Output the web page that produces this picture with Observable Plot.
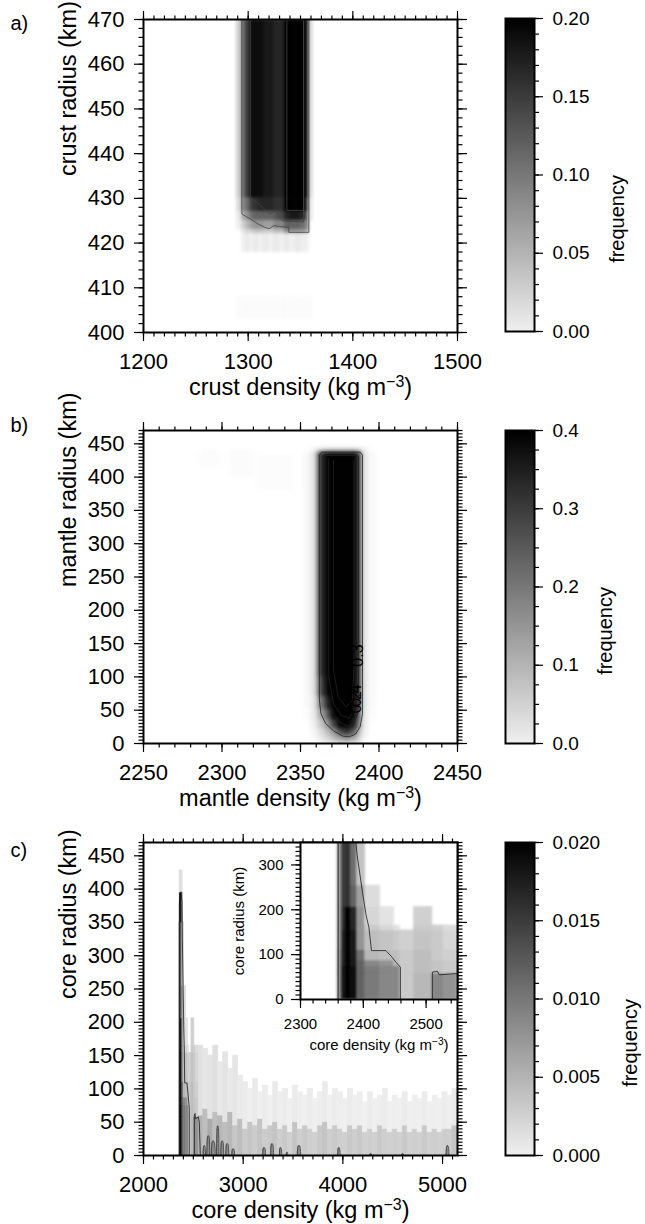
<!DOCTYPE html>
<html><head><meta charset="utf-8">
<script src="https://cdn.jsdelivr.net/npm/d3@7"></script>
<script src="https://cdn.jsdelivr.net/npm/@observablehq/plot@0.6"></script>
<style>
body{margin:0;background:#fff;}
#fig{position:relative;width:645px;height:1224px;overflow:hidden;background:#fff;}
#fig svg{position:absolute;overflow:visible;background:transparent;}
</style></head><body><div id="fig"></div>
<script>
// ---------------- DATA ----------------
// Panel a: crust density (kg m-3) x crust radius (km)
const crustDensityTicks = [1200, 1300, 1400, 1500];
const crustRadiusTicks = [400, 410, 420, 430, 440, 450, 460, 470];
const crustDensityEdges = [1289, 1294, 1298, 1302, 1306, 1310, 1315, 1320, 1325, 1330, 1335, 1340, 1345, 1350, 1355, 1358, 1362];
const crustRadiusBands = [[430, 470], [427, 430], [425, 427], [423, 425], [422, 423], [418, 422], [403, 408]];
const crustFreq = [
  [0.03, 0.11, 0.15, 0.19, 0.19, 0.19, 0.18, 0.18, 0.17, 0.17, 0.24, 0.25, 0.25, 0.24, 0.19, 0.02],
  [0.02, 0.09, 0.11, 0.15, 0.16, 0.17, 0.17, 0.17, 0.16, 0.16, 0.22, 0.23, 0.23, 0.22, 0.16, 0.01],
  [0.01, 0.06, 0.08, 0.11, 0.12, 0.12, 0.12, 0.12, 0.13, 0.14, 0.17, 0.18, 0.18, 0.17, 0.12, 0.01],
  [0.005, 0.03, 0.05, 0.07, 0.08, 0.08, 0.07, 0.07, 0.09, 0.09, 0.12, 0.12, 0.12, 0.11, 0.09, 0],
  [0, 0.015, 0.025, 0.03, 0.04, 0.04, 0.035, 0.035, 0.045, 0.045, 0.08, 0.08, 0.08, 0.075, 0.06, 0],
  [0, 0.004, 0.01, 0.004, 0.01, 0.004, 0.01, 0.004, 0.01, 0.004, 0.01, 0.004, 0.01, 0.006, 0.004, 0],
  [0.0012, 0.0012, 0.0012, 0.0012, 0.0012, 0.0012, 0.0012, 0.0012, 0.0012, 0.0012, 0.0012, 0.0012, 0.0012, 0.0012, 0.0012, 0.0012]
];
const crustContour1 = [[1294, 470], [1294, 426.5], [1302, 425.4], [1310, 424.2], [1316, 423.5], [1320, 423.2], [1324.5, 423.9], [1330, 423.7], [1338.8, 423.5], [1338.8, 422.4], [1358, 422.4], [1358, 470]];
const crustContour2 = [[1302, 470], [1302, 430.3], [1311, 428.5], [1321, 426.5], [1326, 427.3], [1332.5, 425], [1353, 424.7], [1353, 470]];
const crustContour3 = [[1337, 470], [1337, 427.3], [1353, 427.3], [1353, 470]];
const crustFreqTicks = [0, 0.05, 0.10, 0.15, 0.20];

// Panel b: mantle density x mantle radius
const mantleDensityTicks = [2250, 2300, 2350, 2400, 2450];
const mantleRadiusTicks = [0, 50, 100, 150, 200, 250, 300, 350, 400, 450];
const mantleDensityEdges = [2352, 2357, 2361, 2364, 2367, 2370, 2374, 2378, 2382, 2386, 2389, 2393, 2398];
const mantleRadiusBands = [[437, 443], [100, 437], [70, 100], [50, 70], [35, 50], [22, 35], [12, 22], [4, 12], [0, 4]];
const mantleFreq = [
  [0, 0.005, 0.03, 0.04, 0.05, 0.05, 0.05, 0.05, 0.05, 0.04, 0.01, 0],
  [0.004, 0.03, 0.28, 0.36, 0.45, 0.5, 0.5, 0.5, 0.48, 0.32, 0.03, 0.004],
  [0.004, 0.03, 0.24, 0.33, 0.42, 0.5, 0.5, 0.5, 0.48, 0.32, 0.03, 0.004],
  [0.003, 0.02, 0.17, 0.25, 0.36, 0.46, 0.5, 0.5, 0.45, 0.3, 0.03, 0.003],
  [0.002, 0.015, 0.11, 0.17, 0.27, 0.4, 0.48, 0.48, 0.42, 0.26, 0.025, 0.002],
  [0, 0.01, 0.06, 0.11, 0.18, 0.3, 0.42, 0.44, 0.36, 0.2, 0.02, 0],
  [0, 0.005, 0.03, 0.06, 0.1, 0.17, 0.28, 0.32, 0.26, 0.12, 0.01, 0],
  [0, 0.003, 0.015, 0.035, 0.06, 0.1, 0.15, 0.18, 0.14, 0.07, 0.005, 0],
  [0, 0, 0.005, 0.015, 0.03, 0.05, 0.07, 0.08, 0.06, 0.03, 0, 0]
];
// faint patch near the top left of panel b
const mantleFaintDensity = [[2285, 2300], [2305, 2320], [2322, 2345]];
const mantleFaintRadius = [[415, 440], [400, 440], [380, 432]];
const mantleFaintFreq = [0.0015, 0.002, 0.0015];
const mantleContour01 = [[2362, 433], [2362, 67], [2363, 45], [2366, 30], [2371, 19], [2377, 11], [2381, 10], [2385, 14], [2388, 25], [2389.5, 45], [2389.5, 433], [2388, 437.5], [2363.5, 437.5], [2362, 433]];
const mantleContour02 = [[2365, 430], [2365, 97], [2367, 68], [2370, 48], [2375, 32], [2380, 26], [2384, 30], [2386.5, 45], [2387, 80], [2387, 430], [2386, 432.5], [2366, 432.5], [2365, 430]];
const mantleContour03 = [[2368, 428], [2368, 100], [2371, 60], [2376, 42], [2381, 38], [2384, 50], [2385.5, 90], [2385.5, 428]];
const mantleContour04 = [[2371, 425], [2371, 110], [2374, 70], [2379, 55], [2383, 65], [2384, 110], [2384, 425]];
const mantleContourLabelText = ["0.3", "0.4", "0.2"];
const mantleContourLabelDensity = [2386.5, 2385, 2385.5];
const mantleContourLabelRadius = [132, 72, 62];
const mantleFreqTicks = [0, 0.1, 0.2, 0.3, 0.4];

// Panel c: core density x core radius
const coreDensityTicks = [2000, 3000, 4000, 5000];
const coreRadiusTicks = [0, 50, 100, 150, 200, 250, 300, 350, 400, 450];
const insetDensityTicks = [2300, 2400, 2500];
const insetRadiusTicks = [0, 100, 200, 300];
// near-peak grid (also shown enlarged in the inset)
const corePeakEdges = [2359, 2366, 2372, 2380, 2390, 2403, 2427, 2449, 2459, 2481, 2510, 2528, 2550];
const corePeakBands = [[0, 58], [58, 75], [75, 87], [87, 110], [110, 154], [154, 165], [165, 206], [206, 254], [254, 350]];
const corePeakFreq = [
  [0.008, 0.018, 0.021, 0.019, 0.012, 0.010, 0.009, 0.009, 0.0035, 0.005, 0.009, 0.008],
  [0.008, 0.018, 0.021, 0.019, 0.012, 0.010, 0.009, 0.009, 0.0035, 0.0045, 0.004, 0.0035],
  [0.008, 0.017, 0.021, 0.018, 0.012, 0.009, 0.008, 0.0045, 0.0035, 0.0045, 0.004, 0.0035],
  [0.008, 0.017, 0.021, 0.018, 0.011, 0.005, 0.0045, 0.0045, 0.0035, 0.0045, 0.0035, 0.003],
  [0.007, 0.017, 0.021, 0.018, 0.008, 0.0045, 0.004, 0.0035, 0.003, 0.004, 0.0035, 0.0025],
  [0.007, 0.016, 0.020, 0.017, 0.008, 0.0035, 0.0025, 0.0015, 0, 0.0035, 0.003, 0.002],
  [0.007, 0.016, 0.020, 0.017, 0.008, 0.0025, 0.0015, 0, 0, 0.003, 0, 0],
  [0.007, 0.015, 0.016, 0.012, 0.007, 0.002, 0, 0, 0, 0, 0, 0],
  [0.007, 0.015, 0.016, 0.011, 0.004, 0, 0, 0, 0, 0, 0, 0]
];
// top of the narrow peak above 350 km
const coreSpikeEdges = [2362, 2366, 2390, 2395];
const coreSpikeBands = [[350, 395], [395, 428]];
const coreSpikeFreq = [[0.005, 0.018, 0.005], [0.0008, 0.002, 0.0008]];
// 50 kg m-3 wide columns from 2550 to 5150
const coreColumnStart = [2550, 2600, 2650, 2700, 2750, 2800, 2850, 2900, 2950, 3000, 3050, 3100, 3150, 3200, 3250, 3300, 3350, 3400, 3450, 3500, 3550, 3600, 3650, 3700, 3750, 3800, 3850, 3900, 3950, 4000, 4050, 4100, 4150, 4200, 4250, 4300, 4350, 4400, 4450, 4500, 4550, 4600, 4650, 4700, 4750, 4800, 4850, 4900, 4950, 5000, 5050, 5100];
const coreColumnTop = [165, 160, 150, 165, 140, 155, 130, 150, 120, 110, 100, 115, 95, 105, 90, 110, 95, 100, 85, 105, 95, 90, 100, 85, 95, 110, 90, 100, 95, 85, 100, 90, 95, 80, 95, 85, 90, 100, 80, 90, 85, 95, 80, 90, 85, 95, 80, 90, 85, 95, 90, 100];
const coreColumnTopFreq = [0.0016, 0.0012, 0.0015, 0.0018, 0.0011, 0.0014, 0.001, 0.0013, 0.0009, 0.0008, 0.0006, 0.0009, 0.0005, 0.0007, 0.0005, 0.0009, 0.0006, 0.0007, 0.0005, 0.0008, 0.0006, 0.0005, 0.0007, 0.0005, 0.0006, 0.0008, 0.0005, 0.0007, 0.0006, 0.0005, 0.0007, 0.0005, 0.0006, 0.0005, 0.0007, 0.0005, 0.0006, 0.0007, 0.0005, 0.0006, 0.0005, 0.0007, 0.0005, 0.0006, 0.0005, 0.0007, 0.0005, 0.0006, 0.0005, 0.0007, 0.0006, 0.0008];
const coreColumnMid = [60, 70, 55, 65, 60, 50, 65, 45, 55, 40, 50, 45, 55, 40, 45, 50, 40, 45, 35, 50, 40, 45, 40, 35, 45, 50, 40, 45, 40, 35, 45, 40, 45, 35, 40, 35, 45, 40, 35, 40, 35, 45, 35, 40, 35, 45, 35, 40, 35, 40, 40, 45];
const coreColumnMidFreq = [0.0055, 0.0045, 0.006, 0.0045, 0.005, 0.0045, 0.005, 0.0038, 0.0045, 0.0035, 0.0038, 0.0033, 0.004, 0.0033, 0.0036, 0.004, 0.0032, 0.0036, 0.003, 0.004, 0.0032, 0.0036, 0.0032, 0.003, 0.0036, 0.004, 0.0032, 0.0036, 0.0032, 0.003, 0.0036, 0.0032, 0.0036, 0.003, 0.0032, 0.003, 0.0036, 0.0032, 0.003, 0.0032, 0.003, 0.0036, 0.003, 0.0032, 0.003, 0.0036, 0.003, 0.0032, 0.003, 0.0032, 0.0032, 0.004];
// small closed contours near zero radius
const coreBumpDensity = [2610, 2650, 2700, 2745, 2790, 2840, 2900, 3210, 3290, 3375, 3440, 3560, 3960, 4280, 4600, 5050];
const coreBumpHalfWidth = [12, 15, 20, 12, 15, 15, 15, 15, 15, 12, 8, 18, 12, 8, 8, 15];
const coreBumpRadius = [15, 30, 22, 45, 22, 18, 10, 12, 18, 12, 5, 15, 12, 3, 3, 15];
const corePeakContour = [[2360, 0], [2360, 380], [2366, 394], [2378, 396], [2386, 380], [2390, 324], [2396, 265], [2404, 191], [2409, 160], [2413, 109], [2436, 109], [2446, 94], [2452, 83], [2459, 72], [2459, 0]];
const coreSideContour = [[2510, 0], [2510, 61], [2518, 63], [2521, 55], [2550, 58], [2560, 50], [2570, 0]];
const coreFreqTicks = [0, 0.005, 0.010, 0.015, 0.020];

// ---------------- DRAWING ----------------
const FONT = '"Liberation Sans", Arial, Helvetica, sans-serif';
const LIGHT = "#f0f0f0";
const fig = document.getElementById("fig");
const PW = 314, PH = 313;

function place(svg, left, top) {
  svg.style.left = left + "px";
  svg.style.top = top + "px";
  fixSup(svg);
  fig.appendChild(svg);
}
function fixSup(root) {
  root.querySelectorAll("text").forEach(t => {
    const s = t.textContent;
    if (t.children.length === 0 && s.includes("\u207B\u00B3")) {
      const [a, b] = s.split("\u207B\u00B3");
      t.textContent = a;
      const sup = document.createElementNS("http://www.w3.org/2000/svg", "tspan");
      sup.setAttribute("baseline-shift", "super");
      sup.setAttribute("font-size", "0.68em");
      sup.textContent = "\u22123";
      t.appendChild(sup);
      const rest = document.createElementNS("http://www.w3.org/2000/svg", "tspan");
      rest.textContent = b;
      t.appendChild(rest);
    }
  });
}
function cellsFrom(edges, bands, matrix) {
  const out = [];
  bands.forEach((b, i) => {
    for (let j = 0; j < edges.length - 1; j++) {
      const v = matrix[i][j];
      if (v > 0) out.push({x1: edges[j], x2: edges[j + 1], y1: b[0], y2: b[1], v});
    }
  });
  return out;
}
function heatScale(max) {
  // tiny frequencies fade to white, the rest is the grey ramp of the colour bar
  return {type: "linear", domain: [0, max * 0.02, max], range: ["#ffffff", LIGHT, "#000000"], clamp: true};
}
function heat(cells, blur) {
  return Plot.rect(cells, {x1: "x1", x2: "x2", y1: "y1", y2: "y2", fill: "v", stroke: "v", strokeWidth: 0.7, clip: true, imageFilter: `blur(${blur}px)`});
}
function contourLine(pts, opts = {}) {
  return Plot.line(pts, {x: d => d[0], y: d => d[1], stroke: "#1a1a1a", strokeWidth: 0.8, clip: true, ...opts});
}
function frameAxes(xTicks, xMinor, yTicks, yMinor, fs, majorLen, minorLen, sides) {
  const m = [];
  const blank = () => "";
  const sw = 1.2;
  m.push(Plot.axisX({anchor: "bottom", ticks: xTicks, tickSize: majorLen, tickPadding: sides.padX, tickFormat: d => String(d), fontSize: fs, label: null, strokeWidth: sw}));
  m.push(Plot.axisX({anchor: "bottom", ticks: xMinor, tickSize: minorLen, tickFormat: blank, label: null, strokeWidth: sw}));
  m.push(Plot.axisY({anchor: "left", ticks: yTicks, tickSize: majorLen, tickPadding: sides.padY, tickFormat: d => String(d), fontSize: fs, label: null, strokeWidth: sw}));
  m.push(Plot.axisY({anchor: "left", ticks: yMinor, tickSize: minorLen, tickFormat: blank, label: null, strokeWidth: sw}));
  if (sides.all) {
    m.push(Plot.axisX({anchor: "top", ticks: xTicks, tickSize: majorLen, tickFormat: blank, label: null, strokeWidth: sw}));
    m.push(Plot.axisX({anchor: "top", ticks: xMinor, tickSize: minorLen, tickFormat: blank, label: null, strokeWidth: sw}));
    m.push(Plot.axisY({anchor: "right", ticks: yTicks, tickSize: majorLen, tickFormat: blank, label: null, strokeWidth: sw}));
    m.push(Plot.axisY({anchor: "right", ticks: yMinor, tickSize: minorLen, tickFormat: blank, label: null, strokeWidth: sw}));
  }
  return m;
}
function panel(o) {
  const mL = 143, mR = 20, mT = 20, mB = 80;
  return Plot.plot({
    width: mL + PW + mR, height: mT + PH + mB,
    marginLeft: mL, marginRight: mR, marginTop: mT, marginBottom: mB,
    style: {fontFamily: FONT, fontSize: "22px", background: "transparent", overflow: "visible", color: "#000"},
    x: {domain: o.xDomain, label: null},
    y: {domain: o.yDomain, label: null},
    color: heatScale(o.colorMax),
    marks: [
      heat(o.cells, o.blur),
      ...(o.extra || []),
      Plot.frame({strokeWidth: 2}),
      ...frameAxes(o.xTicks, o.xMinor, o.yTicks, o.yMinor, 22, 9, 4.5, {all: true, padX: 12, padY: 10}),
      Plot.text([o.yLabel], {text: d => d, frameAnchor: "left", dx: -75, rotate: -90, fontSize: 23.5, lineAnchor: "middle"}),
      Plot.text([o.xLabel], {text: d => d, frameAnchor: "bottom", dy: 55, fontSize: 23.5, lineAnchor: "middle"}),
      Plot.text([o.tag], {text: d => d, frameAnchor: "top-left", dx: -133, dy: o.tagDy, textAnchor: "start", lineAnchor: "middle", fontSize: 20})
    ]
  });
}
function colorbar(o) {
  const mL = 5, mR = 120, mT = 10, mB = 10, W = 29;
  return Plot.plot({
    width: mL + W + mR, height: mT + PH + mB,
    marginLeft: mL, marginRight: mR, marginTop: mT, marginBottom: mB,
    style: {fontFamily: FONT, fontSize: "19px", background: "transparent", overflow: "visible", color: "#000"},
    x: {domain: [0, 1], axis: null},
    y: {domain: [0, o.max], label: null},
    color: {type: "linear", domain: [0, o.max], range: [LIGHT, "#000"]},
    marks: [
      Plot.raster({x1: 0, x2: 1, y1: 0, y2: o.max, width: 2, height: 256, fill: (x, y) => y}),
      Plot.frame({strokeWidth: 2}),
      Plot.axisY({anchor: "right", ticks: o.ticks, tickSize: 8, tickPadding: 10, tickFormat: o.fmt, fontSize: 19, label: null, strokeWidth: 1.2}),
      Plot.axisY({anchor: "right", ticks: o.minor, tickSize: 4, tickFormat: () => "", label: null, strokeWidth: 1.2}),
      Plot.text(["frequency"], {text: d => d, frameAnchor: "right", dx: o.labelDx, rotate: -90, fontSize: 20, lineAnchor: "middle"})
    ]
  });
}

// ---- panel a ----
const cellsA = cellsFrom(crustDensityEdges, crustRadiusBands, crustFreq);
place(panel({
  xDomain: [1200, 1500], yDomain: [400, 470], colorMax: 0.2, cells: cellsA, blur: 1.6,
  xTicks: crustDensityTicks, xMinor: d3.range(1200, 1501, 10),
  yTicks: crustRadiusTicks, yMinor: d3.range(400, 471, 2),
  extra: [crustContour1, crustContour2, crustContour3].map(c => contourLine(c, {stroke: "#444"})),
  xLabel: "crust density (kg m\u207B\u00B3)", yLabel: "crust radius (km)", tag: "a)", tagDy: 4
}), 0, 19 - 20);
place(colorbar({max: 0.2, ticks: crustFreqTicks, minor: d3.range(0, 0.2001, 0.01), fmt: d3.format(".2f"), labelDx: 83}), 500, 18 - 10);

// ---- panel b ----
const cellsB = cellsFrom(mantleDensityEdges, mantleRadiusBands, mantleFreq);
mantleFaintFreq.forEach((v, i) => cellsB.push({x1: mantleFaintDensity[i][0], x2: mantleFaintDensity[i][1], y1: mantleFaintRadius[i][0], y2: mantleFaintRadius[i][1], v}));
const labelsB = mantleContourLabelText.map((t, i) => ({t, x: mantleContourLabelDensity[i], y: mantleContourLabelRadius[i]}));
place(panel({
  xDomain: [2250, 2450], yDomain: [0, 470], colorMax: 0.4, cells: cellsB, blur: 2,
  xTicks: mantleDensityTicks, xMinor: d3.range(2250, 2451, 10),
  yTicks: mantleRadiusTicks, yMinor: d3.range(0, 471, 5),
  extra: [
    ...[mantleContour01, mantleContour02, mantleContour03, mantleContour04].map(c => contourLine(c, {stroke: "#222"})),
    Plot.text(labelsB, {x: "x", y: "y", text: "t", rotate: -90, fontSize: 16, fill: "#000"})
  ],
  xLabel: "mantle density (kg m\u207B\u00B3)", yLabel: "mantle radius (km)", tag: "b)", tagDy: -5
}), 0, 430 - 20);
place(colorbar({max: 0.4, ticks: mantleFreqTicks, minor: d3.range(0, 0.4001, 0.025), fmt: d3.format(".1f"), labelDx: 71}), 500, 430 - 10);

// ---- panel c ----
const cellsPeak = cellsFrom(corePeakEdges, corePeakBands, corePeakFreq);
const cellsSpike = cellsFrom(coreSpikeEdges, coreSpikeBands, coreSpikeFreq);
const cellsCols = [];
coreColumnStart.forEach((x, j) => {
  cellsCols.push({x1: x, x2: x + 50, y1: 0, y2: coreColumnMid[j], v: coreColumnMidFreq[j]});
  cellsCols.push({x1: x, x2: x + 50, y1: coreColumnMid[j], y2: coreColumnTop[j], v: coreColumnTopFreq[j]});
});
const bumps = coreBumpDensity.map((c, i) => {
  const w = coreBumpHalfWidth[i], h = coreBumpRadius[i];
  return [[c - w, 0], [c - w * 0.8, h * 0.8], [c - w * 0.4, h], [c + w * 0.4, h], [c + w * 0.8, h * 0.8], [c + w, 0]].map(p => ({x: p[0], y: p[1], id: i}));
}).flat();
place(panel({
  xDomain: [2000, 5150], yDomain: [0, 470], colorMax: 0.02, blur: 0.6,
  cells: [...cellsCols, ...cellsPeak, ...cellsSpike],
  xTicks: coreDensityTicks, xMinor: d3.range(2000, 5151, 100),
  yTicks: coreRadiusTicks, yMinor: d3.range(0, 471, 5),
  extra: [
    Plot.areaY(bumps, {x: "x", y: "y", z: "id", fill: "#8a8a8a", curve: "basis", clip: true}),
    Plot.line(bumps, {x: "x", y: "y", z: "id", stroke: "#333", strokeWidth: 0.8, curve: "basis", clip: true}),
    contourLine(corePeakContour), contourLine(coreSideContour)
  ],
  xLabel: "core density (kg m\u207B\u00B3)", yLabel: "core radius (km)", tag: "c)", tagDy: 8
}), 0, 842 - 20);
place(colorbar({max: 0.02, ticks: coreFreqTicks, minor: d3.range(0, 0.02001, 0.001), fmt: d3.format(".3f"), labelDx: 96}), 500, 842 - 10);

// ---- inset ----
{
  const mL = 60, mR = 5, mT = 5, mB = 60, W = 157, H = 157;
  const inset = Plot.plot({
    width: mL + W + mR, height: mT + H + mB,
    marginLeft: mL, marginRight: mR, marginTop: mT, marginBottom: mB,
    style: {fontFamily: FONT, fontSize: "15px", background: "transparent", overflow: "visible", color: "#000"},
    x: {domain: [2300, 2550], label: null},
    y: {domain: [0, 350], label: null},
    color: heatScale(0.02),
    marks: [
      Plot.frame({fill: "white", stroke: null}),
      heat(cellsPeak, 1.2),
      contourLine(corePeakContour), contourLine(coreSideContour),
      contourLine([[2360, 0], [2360, 350]], {stroke: "#555"}),
      Plot.frame({strokeWidth: 2}),
      ...frameAxes(insetDensityTicks, d3.range(2300, 2551, 20), insetRadiusTicks, d3.range(0, 351, 10), 15, 9, 4.5, {all: false, padX: 10, padY: 8}),
      Plot.text(["core radius (km)"], {text: d => d, x: 2300, y: 175, dx: -61, rotate: -90, fontSize: 15, lineAnchor: "middle"}),
      Plot.text(["core density (kg m\u207B\u00B3)"], {text: d => d, frameAnchor: "bottom", dy: 46, fontSize: 15, lineAnchor: "middle"})
    ]
  });
  place(inset, 300 - mL, 842 - mT);
}
</script></body></html>
